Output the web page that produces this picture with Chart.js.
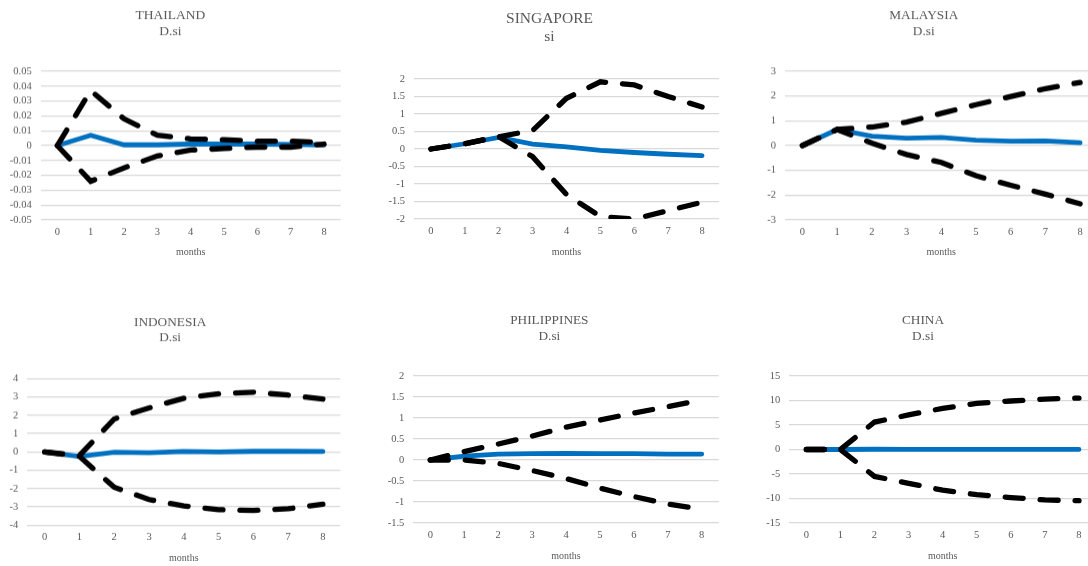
<!DOCTYPE html>
<html>
<head>
<meta charset="utf-8">
<script src="https://cdn.jsdelivr.net/npm/chart.js@4.4.1/dist/chart.umd.min.js"></script>
<style>
  html, body { margin: 0; padding: 0; background: #fff; overflow: hidden; }
  body { width: 1088px; height: 566px; position: relative; }
  .box { position: absolute; }
</style>
</head>
<body>
<div class="box" id="box-th"><canvas id="th"></canvas></div>
<div class="box" id="box-sg"><canvas id="sg"></canvas></div>
<div class="box" id="box-my"><canvas id="my"></canvas></div>
<div class="box" id="box-id"><canvas id="id"></canvas></div>
<div class="box" id="box-ph"><canvas id="ph"></canvas></div>
<div class="box" id="box-cn"><canvas id="cn"></canvas></div>
<script>
// impulse responses, months 0..8
const months = ["0", "1", "2", "3", "4", "5", "6", "7", "8"];

const thaiIrf = [0, 0.007, 0.0005, 0.0005, 0.001, 0.001, 0.001, 0.0008, 0.0005];
const thaiUpper = [0, 0.037, 0.018, 0.007, 0.0045, 0.004, 0.003, 0.003, 0.002];
const thaiLower = [0, -0.024, -0.015, -0.007, -0.003, -0.002, -0.001, -0.001, 0.001];

const singIrf = [0, 0.15, 0.33, 0.14, 0.06, -0.04, -0.1, -0.15, -0.19];
const singUpper = [0, 0.15, 0.35, 0.53, 1.45, 1.92, 1.83, 1.5, 1.2];
const singLower = [0, 0.15, 0.35, -0.22, -1.3, -1.93, -2.0, -1.76, -1.52];

const malaIrf = [0, 0.65, 0.38, 0.3, 0.33, 0.22, 0.18, 0.19, 0.12];
const malaUpper = [0, 0.65, 0.75, 0.95, 1.3, 1.65, 1.98, 2.3, 2.55];
const malaLower = [0, 0.65, 0.1, -0.36, -0.68, -1.22, -1.6, -1.96, -2.35];

const indoIrf = [0, -0.25, -0.02, -0.05, 0.02, 0, 0.03, 0.03, 0.02];
const indoUpper = [0, -0.2, 1.8, 2.4, 2.93, 3.17, 3.26, 3.1, 2.88];
const indoLower = [0, -0.25, -1.93, -2.6, -2.95, -3.15, -3.2, -3.1, -2.85];

const philIrf = [0, 0.09, 0.14, 0.15, 0.16, 0.15, 0.15, 0.14, 0.14];
const philUpper = [0, 0.2, 0.38, 0.57, 0.78, 0.95, 1.12, 1.27, 1.43];
const philLower = [0, 0.0, -0.08, -0.25, -0.44, -0.67, -0.87, -1.05, -1.17];

const chinIrf = [0, 0, 0.05, 0.03, 0.03, 0.02, 0.02, 0.02, 0.02];
const chinUpper = [0, 0, 5.6, 7.06, 8.4, 9.4, 9.9, 10.3, 10.5];
const chinLower = [0, 0, -5.5, -6.9, -8.3, -9.2, -9.8, -10.3, -10.45];

// y range: [min, max, step]
const thaiRange = [-0.05, 0.05, 0.01];
const singRange = [-2, 2, 0.5];
const malaRange = [-3, 3, 1];
const indoRange = [-4, 4, 1];
const philRange = [-1.5, 2, 0.5];
const chinRange = [-15, 15, 5];

const grey = "#595959";
const serif = "'Liberation Serif', 'Times New Roman', serif";

const makePanel = (id, p) => {
  const box = document.getElementById("box-" + id);
  const H = p.monthsY - p.T + 8;
  box.style.left = p.L + "px";
  box.style.top = p.T + "px";
  box.style.width = p.W + "px";
  box.style.height = H + "px";

  const titlePadTop = p.titleY - p.T - p.titleLH / 2;
  const titlePadBottom = p.areaT - p.T - titlePadTop - 2 * p.titleLH;
  const xHeight = p.T + H - p.areaB;

  const dashed = (data) => ({
    data: data,
    borderColor: "#000000",
    borderWidth: 5.3,
    borderDash: [18, 17],
    borderCapStyle: "round",
    pointRadius: 0,
    tension: 0,
    order: 0,
  });

  new Chart(document.getElementById(id), {
    type: "line",
    data: {
      labels: months,
      datasets: [
        {
          data: p.irf,
          borderColor: "#0070C0",
          borderWidth: 4.8,
          borderCapStyle: "round",
          pointRadius: 0,
          tension: 0,
          order: 1,
        },
        dashed(p.upper),
        dashed(p.lower),
      ],
    },
    options: {
      responsive: true,
      maintainAspectRatio: false,
      animation: false,
      events: [],
      layout: { padding: { left: 0, top: 0, bottom: 0, right: p.L + p.W - p.areaR } },
      plugins: {
        legend: { display: false },
        tooltip: { enabled: false },
        title: {
          display: true,
          text: [p.name, p.sub],
          color: grey,
          font: { family: serif, size: p.titleSize, weight: "normal", lineHeight: p.titleLH / p.titleSize },
          padding: { top: titlePadTop, bottom: titlePadBottom },
        },
      },
      scales: {
        x: {
          offset: true,
          grid: { display: false, drawTicks: false },
          border: { display: false },
          ticks: { color: grey, font: { family: serif, size: 10.5 }, padding: 6, maxRotation: 0 },
          title: {
            display: true,
            text: "months",
            color: grey,
            font: { family: serif, size: 10, lineHeight: 1.2 },
            padding: { top: 0, bottom: 2 },
          },
          afterFit: (scale) => { scale.height = xHeight; },
        },
        y: {
          min: p.range[0],
          max: p.range[1],
          grid: { color: "#d9d9d9", lineWidth: 1.3, drawTicks: false },
          border: { display: false },
          ticks: {
            stepSize: p.range[2],
            autoSkip: false,
            color: grey,
            font: { family: serif, size: 10.5, lineHeight: 1 },
            padding: 9,
            callback: (value) => String(Number(value.toFixed(4))),
          },
          afterFit: (scale) => { scale.width = p.areaL - p.L; },
        },
      },
    },
  });
};

makePanel("th", {
  name: "THAILAND", sub: "D.si", irf: thaiIrf, upper: thaiUpper, lower: thaiLower, range: thaiRange,
  L: 0, T: 0, W: 362, areaL: 40.7, areaR: 340.7, areaT: 71, areaB: 219,
  titleSize: 13.5, titleLH: 15.4, titleY: 15.7, monthsY: 251.7,
});
makePanel("sg", {
  name: "SINGAPORE", sub: "si", irf: singIrf, upper: singUpper, lower: singLower, range: singRange,
  L: 380, T: 0, W: 358, areaL: 414, areaR: 719, areaT: 79, areaB: 219,
  titleSize: 15.5, titleLH: 18.3, titleY: 19, monthsY: 252,
});
makePanel("my", {
  name: "MALAYSIA", sub: "D.si", irf: malaIrf, upper: malaUpper, lower: malaLower, range: malaRange,
  L: 750, T: 0, W: 376, areaL: 785, areaR: 1097.5, areaT: 71, areaB: 219,
  titleSize: 13.3, titleLH: 15.4, titleY: 15.7, monthsY: 251.7,
});
makePanel("id", {
  name: "INDONESIA", sub: "D.si", irf: indoIrf, upper: indoUpper, lower: indoLower, range: indoRange,
  L: 0, T: 300, W: 360, areaL: 27.3, areaR: 340.3, areaT: 378.3, areaB: 524.3,
  titleSize: 13.3, titleLH: 14.7, titleY: 322.7, monthsY: 557.7,
});
makePanel("ph", {
  name: "PHILIPPINES", sub: "D.si", irf: philIrf, upper: philUpper, lower: philLower, range: philRange,
  L: 380, T: 300, W: 358, areaL: 413.3, areaR: 718.7, areaT: 376, areaB: 523,
  titleSize: 13.3, titleLH: 16, titleY: 320.7, monthsY: 556,
});
makePanel("cn", {
  name: "CHINA", sub: "D.si", irf: chinIrf, upper: chinUpper, lower: chinLower, range: chinRange,
  L: 750, T: 300, W: 374, areaL: 789.3, areaR: 1096, areaT: 376, areaB: 523,
  titleSize: 13.3, titleLH: 16, titleY: 320.7, monthsY: 556,
});
</script>
</body>
</html>
